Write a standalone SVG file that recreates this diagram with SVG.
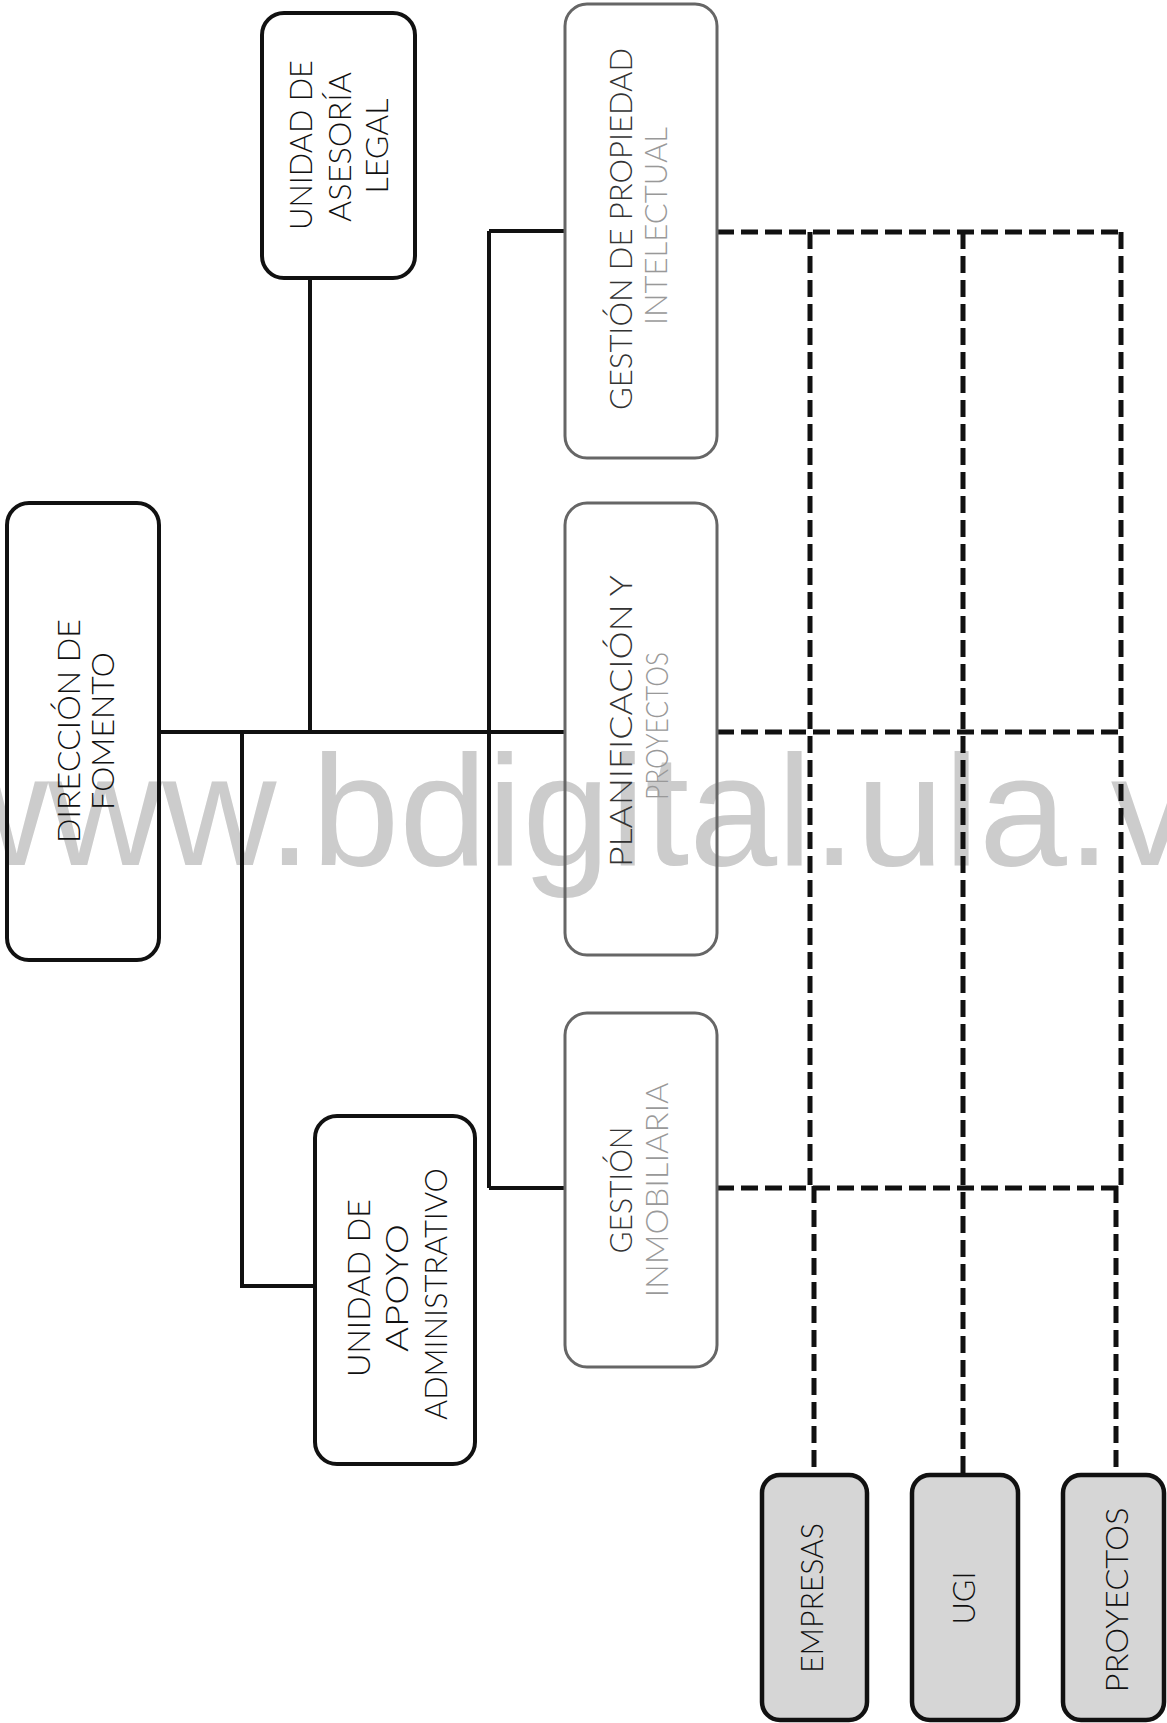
<svg xmlns="http://www.w3.org/2000/svg" width="1167" height="1723" viewBox="0 0 1167 1723">
<style>
.bg{fill:#ffffff}
.wm{font-family:"Liberation Sans",Arial,sans-serif;font-size:158px;fill:#cccccc}
.box{fill:none;stroke:#111;stroke-width:4}
.boxf{fill:none;stroke:#666;stroke-width:3}
.boxg{fill:#d6d6d6;stroke:#111;stroke-width:4.5}
.t{font-family:Lato,"Open Sans","Liberation Sans",sans-serif;font-weight:300;font-size:31px;fill:#111;text-anchor:middle}
.tf{fill:#333}
.tl{fill:#999}
.ln{fill:none;stroke:#111;stroke-width:4}
.dl{fill:none;stroke:#111;stroke-width:5;stroke-dasharray:17 7}
</style>
<rect class="bg" x="0" y="0" width="1167" height="1723"/>
<text class="wm" x="-66" y="865">www.bdigital.ula.ve</text>

<g id="connectors">
<path class="ln" d="M159,732 H565"/>
<path class="ln" d="M310,278 V732"/>
<path class="ln" d="M242,732 V1286 H315"/>
<path class="ln" d="M489,231 V1188"/>
<path class="ln" d="M489,231 H565"/>
<path class="ln" d="M489,1188 H565"/>
<path class="dl" d="M717,232 H1121"/>
<path class="dl" d="M717,732 H1121"/>
<path class="dl" d="M717,1188 H1121"/>
<path class="dl" d="M810,232 V1186"/>
<path class="dl" d="M814,1186 V1475"/>
<path class="dl" d="M963,232 V1475"/>
<path class="dl" d="M1121,232 V1186"/>
<path class="dl" d="M1116,1186 V1475"/>
</g>

<g id="direccion-fomento">
<rect class="box" x="7" y="503" width="152" height="457" rx="22"/>
<text class="t" transform="translate(80,731) rotate(-90)" textLength="224" lengthAdjust="spacingAndGlyphs">DIRECCIÓN DE</text>
<text class="t" transform="translate(114,731) rotate(-90)" textLength="158" lengthAdjust="spacingAndGlyphs">FOMENTO</text>
</g>

<g id="asesoria-legal">
<rect class="box" x="262" y="13" width="153" height="265" rx="22"/>
<text class="t" transform="translate(312,145) rotate(-90)" textLength="170" lengthAdjust="spacingAndGlyphs">UNIDAD DE</text>
<text class="t" transform="translate(351,147) rotate(-90)" textLength="150" lengthAdjust="spacingAndGlyphs">ASESORÍA</text>
<text class="t" transform="translate(388,146) rotate(-90)" textLength="95" lengthAdjust="spacingAndGlyphs">LEGAL</text>
</g>

<g id="apoyo-administrativo">
<rect class="box" x="315" y="1116" width="160" height="348" rx="22"/>
<text class="t" transform="translate(370,1288) rotate(-90)" textLength="178" lengthAdjust="spacingAndGlyphs">UNIDAD DE</text>
<text class="t" transform="translate(408,1288) rotate(-90)" textLength="128" lengthAdjust="spacingAndGlyphs">APOYO</text>
<text class="t" transform="translate(447,1294) rotate(-90)" textLength="252" lengthAdjust="spacingAndGlyphs">ADMINISTRATIVO</text>
</g>

<g id="propiedad-intelectual">
<rect class="boxf" x="565" y="4" width="152" height="454" rx="22"/>
<text class="t tf" transform="translate(632,229) rotate(-90)" textLength="362" lengthAdjust="spacingAndGlyphs">GESTIÓN DE PROPIEDAD</text>
<text class="t tl" transform="translate(667,226) rotate(-90)" textLength="198" lengthAdjust="spacingAndGlyphs">INTELECTUAL</text>
</g>

<g id="planificacion-proyectos">
<rect class="boxf" x="565" y="503" width="152" height="452" rx="22"/>
<text class="t tf" transform="translate(632,721) rotate(-90)" textLength="292" lengthAdjust="spacingAndGlyphs">PLANIFICACIÓN Y</text>
<text class="t tl" transform="translate(668,726) rotate(-90)" textLength="148" lengthAdjust="spacingAndGlyphs">PROYECTOS</text>
</g>

<g id="gestion-inmobiliaria">
<rect class="boxf" x="565" y="1013" width="152" height="354" rx="22"/>
<text class="t tf" transform="translate(632,1190) rotate(-90)" textLength="127" lengthAdjust="spacingAndGlyphs">GESTIÓN</text>
<text class="t tl" transform="translate(668,1190) rotate(-90)" textLength="215" lengthAdjust="spacingAndGlyphs">INMOBILIARIA</text>
</g>

<g id="empresas">
<rect class="boxg" x="762" y="1475" width="105" height="245" rx="18"/>
<text class="t" transform="translate(823,1598) rotate(-90)" textLength="150" lengthAdjust="spacingAndGlyphs">EMPRESAS</text>
</g>

<g id="ugi">
<rect class="boxg" x="912" y="1475" width="106" height="245" rx="18"/>
<text class="t" transform="translate(975,1598) rotate(-90)" textLength="53" lengthAdjust="spacingAndGlyphs">UGI</text>
</g>

<g id="proyectos">
<rect class="boxg" x="1063" y="1475" width="101" height="245" rx="18"/>
<text class="t" transform="translate(1128,1600) rotate(-90)" textLength="185" lengthAdjust="spacingAndGlyphs">PROYECTOS</text>
</g>
</svg>
